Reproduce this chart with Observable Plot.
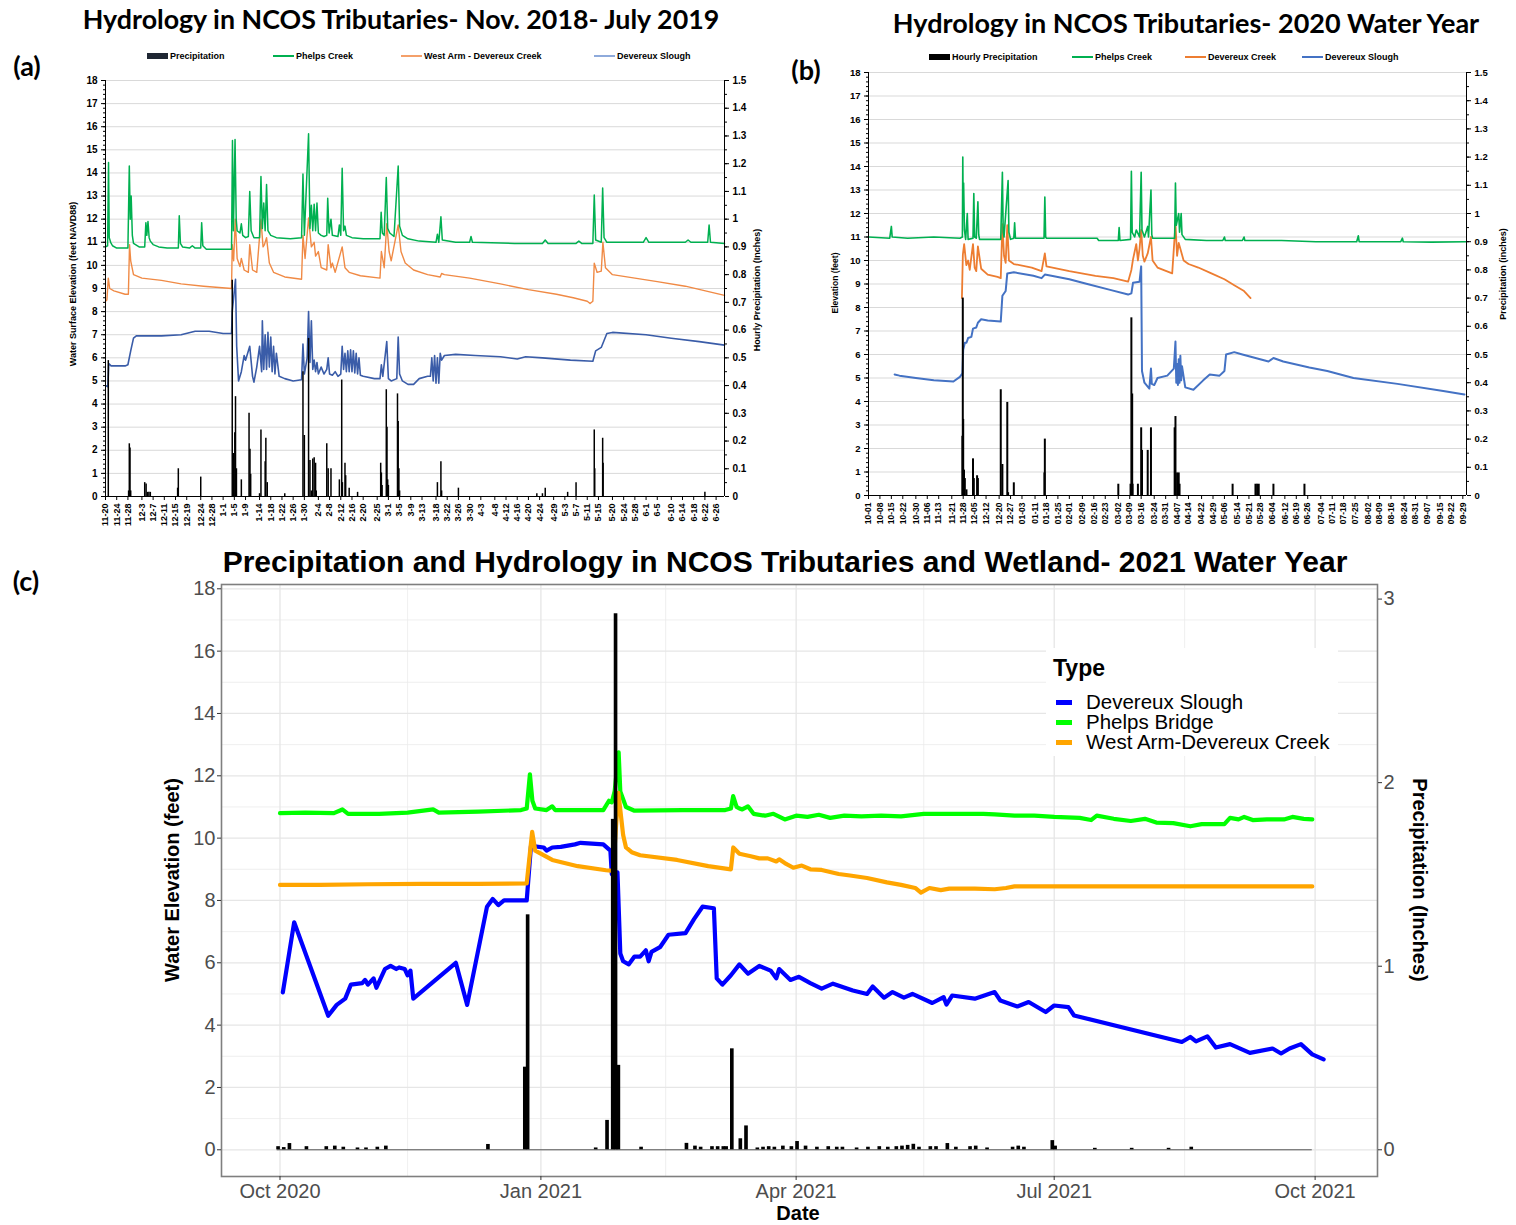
<!DOCTYPE html>
<html><head><meta charset="utf-8">
<script src="https://cdn.jsdelivr.net/npm/d3@7"></script>
<script src="https://cdn.jsdelivr.net/npm/@observablehq/plot@0.6"></script>
<style>
body{margin:0;background:#fff;}
#root{position:relative;width:1516px;height:1225px;overflow:hidden;background:#fff;font-family:"Liberation Sans",Arial,sans-serif;}
.abs{position:absolute;white-space:nowrap;line-height:1;}
svg{position:absolute;overflow:visible;}
</style></head><body><div id="root"></div>
<script>
// ---------------- DATA: panel (a) Nov 2018 - Jul 2019 ----------------
const domainA = ["2018-11-20", "2019-06-29"];
const tickDatesA = ["2018-11-20","2018-11-24","2018-11-28","2018-12-03","2018-12-07","2018-12-11","2018-12-15","2018-12-19","2018-12-24","2018-12-28","2019-01-01","2019-01-05","2019-01-09","2019-01-14","2019-01-18","2019-01-22","2019-01-26","2019-01-30","2019-02-04","2019-02-08","2019-02-12","2019-02-16","2019-02-20","2019-02-25","2019-03-01","2019-03-05","2019-03-09","2019-03-13","2019-03-18","2019-03-22","2019-03-26","2019-03-30","2019-04-03","2019-04-08","2019-04-12","2019-04-16","2019-04-20","2019-04-24","2019-04-29","2019-05-03","2019-05-07","2019-05-11","2019-05-15","2019-05-20","2019-05-24","2019-05-28","2019-06-01","2019-06-05","2019-06-10","2019-06-14","2019-06-18","2019-06-22","2019-06-26"];
const elevTicksA = [0,1,2,3,4,5,6,7,8,9,10,11,12,13,14,15,16,17,18];
const precipTicksA = [0,0.1,0.2,0.3,0.4,0.5,0.6,0.7,0.8,0.9,1,1.1,1.2,1.3,1.4,1.5];
const seriesA = ["Precipitation","Phelps Creek","West Arm - Devereux Creek","Devereux Slough"];
const phelpsA = [["2018-11-20",10.8],["2018-11-20T18",10.85],["2018-11-21T02",14.45],["2018-11-21T08",11.2],["2018-11-21T20",11.0],["2018-11-22T12",10.85],["2018-11-24",10.75],["2018-11-28",10.75],["2018-11-28T12",14.3],["2018-11-28T20",12.0],["2018-11-29T04",13.0],["2018-11-29T14",11.3],["2018-11-30",10.95],["2018-12-02",10.8],["2018-12-04",10.8],["2018-12-04T10",11.85],["2018-12-04T18",11.3],["2018-12-05T04",11.9],["2018-12-05T14",11.2],["2018-12-06",11.05],["2018-12-07",10.9],["2018-12-09",10.8],["2018-12-12",10.75],["2018-12-16",10.75],["2018-12-16T08",12.15],["2018-12-16T18",10.95],["2018-12-17T12",10.8],["2018-12-20",10.75],["2018-12-21",10.85],["2018-12-22",10.75],["2018-12-24",10.75],["2018-12-24T08",11.85],["2018-12-24T18",10.85],["2018-12-26",10.7],["2019-01-04",10.7],["2019-01-04T08",15.4],["2019-01-04T16",11.5],["2019-01-05T06",15.45],["2019-01-05T16",12.0],["2019-01-06",11.5],["2019-01-07",11.4],["2019-01-07T12",11.8],["2019-01-08",11.3],["2019-01-09",11.2],["2019-01-10",11.25],["2019-01-10T12",13.2],["2019-01-11",11.5],["2019-01-12",11.2],["2019-01-14",11.2],["2019-01-14T12",13.85],["2019-01-15",11.6],["2019-01-15T12",12.7],["2019-01-16",11.5],["2019-01-16T12",13.5],["2019-01-17",11.5],["2019-01-18",11.3],["2019-01-20",11.2],["2019-01-25",11.15],["2019-01-29",11.2],["2019-01-29T12",13.95],["2019-01-30",11.3],["2019-01-31T12",15.7],["2019-02-01",11.6],["2019-02-01T12",12.6],["2019-02-02",11.5],["2019-02-02T12",12.65],["2019-02-03",11.5],["2019-02-03T12",12.7],["2019-02-04",11.4],["2019-02-05",11.3],["2019-02-06",11.25],["2019-02-07",11.3],["2019-02-07T08",12.9],["2019-02-07T20",11.4],["2019-02-08T12",12.0],["2019-02-09",11.3],["2019-02-11",11.25],["2019-02-11T12",11.75],["2019-02-12",11.3],["2019-02-12T12",14.2],["2019-02-13",11.5],["2019-02-13T12",11.7],["2019-02-14",11.3],["2019-02-16",11.2],["2019-02-20",11.15],["2019-02-26",11.15],["2019-02-26T10",12.3],["2019-02-26T20",11.4],["2019-02-27T12",11.3],["2019-02-28T06",13.8],["2019-02-28T18",11.6],["2019-03-01T12",11.4],["2019-03-03",11.25],["2019-03-04T12",14.3],["2019-03-05",11.7],["2019-03-06",11.3],["2019-03-08",11.15],["2019-03-12",11.05],["2019-03-18",11.0],["2019-03-18T12",11.35],["2019-03-19",11.0],["2019-03-19T18",12.1],["2019-03-20T06",11.1],["2019-03-25",11.0],["2019-03-30",11.0],["2019-03-30T12",11.25],["2019-03-31",11.0],["2019-04-15",10.95],["2019-04-25",10.95],["2019-04-26",11.1],["2019-04-27",10.95],["2019-05-07",10.95],["2019-05-08",11.05],["2019-05-09",10.95],["2019-05-13",10.95],["2019-05-13T12",13.05],["2019-05-14",11.1],["2019-05-16",11.0],["2019-05-16T12",13.35],["2019-05-17",11.2],["2019-05-18",11.0],["2019-05-31",11.0],["2019-06-01",11.2],["2019-06-02",11.0],["2019-06-15",11.0],["2019-06-16",11.1],["2019-06-17",11.0],["2019-06-23",11.0],["2019-06-23T12",11.75],["2019-06-24",11.0],["2019-06-29",10.95]];
const westArmA = [["2018-11-20",8.45],["2018-11-20T12",8.5],["2018-11-21",9.45],["2018-11-21T12",9.0],["2018-11-23",8.9],["2018-11-27",8.75],["2018-11-28T04",8.75],["2018-11-28T14",10.9],["2018-11-29",10.2],["2018-11-30",9.6],["2018-12-03",9.45],["2018-12-10",9.35],["2018-12-17",9.2],["2018-12-25",9.1],["2019-01-04",9.0],["2019-01-04T06",10.9],["2019-01-04T18",10.2],["2019-01-05T08",12.0],["2019-01-06",10.3],["2019-01-07",9.95],["2019-01-07T12",10.3],["2019-01-08T12",9.8],["2019-01-10",9.7],["2019-01-10T12",10.9],["2019-01-11T12",9.8],["2019-01-13",9.7],["2019-01-14T12",12.0],["2019-01-15T06",10.8],["2019-01-15T18",10.9],["2019-01-16T12",11.2],["2019-01-17T12",10.1],["2019-01-19",9.7],["2019-01-23",9.5],["2019-01-29",9.4],["2019-01-29T12",11.3],["2019-01-30T06",10.3],["2019-01-31T12",12.05],["2019-02-01T12",10.8],["2019-02-02T12",11.0],["2019-02-03",10.4],["2019-02-04",10.6],["2019-02-05",9.9],["2019-02-07",9.8],["2019-02-07T12",10.9],["2019-02-08T12",9.9],["2019-02-09",10.1],["2019-02-10",9.7],["2019-02-12T12",10.8],["2019-02-13T12",9.9],["2019-02-15",9.7],["2019-02-19",9.55],["2019-02-26",9.45],["2019-02-26T12",10.6],["2019-02-27T12",9.9],["2019-02-28T10",11.8],["2019-03-01T06",10.6],["2019-03-02",10.2],["2019-03-04T12",11.75],["2019-03-05T12",10.6],["2019-03-07",10.1],["2019-03-10",9.8],["2019-03-15",9.6],["2019-03-19T12",9.5],["2019-03-20",9.65],["2019-03-21",9.6],["2019-03-30",9.45],["2019-04-10",9.2],["2019-04-20",8.95],["2019-04-30",8.75],["2019-05-06",8.6],["2019-05-11",8.45],["2019-05-12",8.35],["2019-05-13",8.45],["2019-05-13T12",10.1],["2019-05-14T12",9.7],["2019-05-16",9.75],["2019-05-16T14",11.0],["2019-05-17T12",9.9],["2019-05-20",9.6],["2019-05-28",9.45],["2019-06-05",9.3],["2019-06-15",9.1],["2019-06-29",8.7]];
const sloughA = [["2018-11-20",4.8],["2018-11-20T20",4.75],["2018-11-21T04",5.75],["2018-11-22",5.65],["2018-11-27",5.65],["2018-11-28",5.7],["2018-11-29",6.3],["2018-11-30",6.85],["2018-12-01",6.95],["2018-12-10",6.95],["2018-12-17",7.0],["2018-12-22",7.15],["2018-12-27",7.15],["2019-01-01",7.05],["2019-01-04",7.05],["2019-01-04T06",8.0],["2019-01-05T10",9.4],["2019-01-05T20",6.5],["2019-01-06T12",5.0],["2019-01-07T12",5.4],["2019-01-08T12",6.1],["2019-01-09",5.9],["2019-01-10T12",6.5],["2019-01-11T12",5.2],["2019-01-12",4.95],["2019-01-13",5.6],["2019-01-14",6.5],["2019-01-14T18",5.4],["2019-01-15",7.6],["2019-01-15T12",5.5],["2019-01-16",7.0],["2019-01-16T12",5.5],["2019-01-17",7.1],["2019-01-17T12",5.6],["2019-01-18",6.9],["2019-01-18T12",5.4],["2019-01-19",6.5],["2019-01-19T12",5.3],["2019-01-20",6.2],["2019-01-21",5.2],["2019-01-23",5.1],["2019-01-26",5.0],["2019-01-29",5.05],["2019-01-29T12",6.6],["2019-01-30",5.3],["2019-01-31",6.0],["2019-01-31T12",8.0],["2019-02-01",5.8],["2019-02-01T12",7.6],["2019-02-02",5.5],["2019-02-02T12",5.9],["2019-02-03",5.4],["2019-02-03T12",5.8],["2019-02-04",5.3],["2019-02-05",5.6],["2019-02-06",5.3],["2019-02-07",5.5],["2019-02-07T12",6.0],["2019-02-08",5.3],["2019-02-09",5.25],["2019-02-10",5.4],["2019-02-11",5.2],["2019-02-12",5.3],["2019-02-12T12",6.5],["2019-02-13",5.5],["2019-02-13T12",6.2],["2019-02-14",5.4],["2019-02-14T12",6.3],["2019-02-15",5.4],["2019-02-15T12",6.35],["2019-02-16",5.4],["2019-02-16T12",6.3],["2019-02-17",5.35],["2019-02-17T12",6.2],["2019-02-18",5.3],["2019-02-18T12",6.0],["2019-02-19",5.25],["2019-02-20",5.2],["2019-02-24",5.1],["2019-02-26",5.1],["2019-02-26T12",5.7],["2019-02-27",5.2],["2019-02-28T10",6.7],["2019-03-01",5.1],["2019-03-02",5.0],["2019-03-04",5.1],["2019-03-04T12",6.9],["2019-03-05",5.3],["2019-03-06",5.0],["2019-03-08",4.85],["2019-03-10",4.85],["2019-03-12",5.1],["2019-03-15",5.2],["2019-03-16",5.2],["2019-03-16T12",6.0],["2019-03-17",5.0],["2019-03-17T12",6.1],["2019-03-18",4.9],["2019-03-18T12",6.0],["2019-03-19",4.9],["2019-03-19T12",6.2],["2019-03-20",5.9],["2019-03-21",6.1],["2019-03-25",6.15],["2019-04-01",6.1],["2019-04-10",6.05],["2019-04-16",5.95],["2019-04-19",6.05],["2019-04-25",6.0],["2019-05-05",5.9],["2019-05-13",5.85],["2019-05-14",6.3],["2019-05-16",6.45],["2019-05-18",7.05],["2019-05-20",7.1],["2019-06-01",7.0],["2019-06-10",6.85],["2019-06-20",6.7],["2019-06-29",6.55]];
const precipA = [["2018-11-21",0.49],["2018-11-28T06",0.02],["2018-11-28T12",0.19],["2018-11-28T18",0.175],["2018-11-29",0.02],["2018-12-04",0.05],["2018-12-04T12",0.045],["2018-12-05",0.015],["2018-12-05T12",0.015],["2018-12-06",0.015],["2018-12-16",0.1],["2018-12-15T18",0.03],["2018-12-24",0.07],["2019-01-04T06",0.78],["2019-01-04T18",0.155],["2019-01-05T04",0.23],["2019-01-05T10",0.36],["2019-01-05T18",0.1],["2019-01-07T12",0.06],["2019-01-10T06",0.3],["2019-01-10T14",0.17],["2019-01-10T20",0.08],["2019-01-14",0.01],["2019-01-14T12",0.24],["2019-01-16",0.125],["2019-01-16T06",0.21],["2019-01-16T18",0.05],["2019-01-23",0.01],["2019-01-29T12",0.45],["2019-01-30",0.22],["2019-01-31T12",0.57],["2019-02-01",0.13],["2019-02-01T12",0.02],["2019-02-02",0.135],["2019-02-02T12",0.14],["2019-02-03",0.12],["2019-02-03T06",0.02],["2019-02-07",0.19],["2019-02-07T12",0.1],["2019-02-08T12",0.1],["2019-02-11T12",0.06],["2019-02-12T08",0.42],["2019-02-12T14",0.05],["2019-02-13T12",0.12],["2019-02-13T18",0.075],["2019-02-15",0.03],["2019-02-18",0.015],["2019-02-26T06",0.12],["2019-02-26T12",0.085],["2019-02-26T18",0.04],["2019-02-28T06",0.385],["2019-02-28T12",0.25],["2019-02-28T18",0.06],["2019-03-01",0.04],["2019-03-04T06",0.37],["2019-03-04T12",0.27],["2019-03-04T18",0.1],["2019-03-05",0.02],["2019-03-18T12",0.05],["2019-03-19T18",0.125],["2019-03-20",0.02],["2019-03-26",0.03],["2019-04-23",0.01],["2019-04-25",0.01],["2019-04-26",0.03],["2019-05-04",0.015],["2019-05-07",0.05],["2019-05-13T12",0.24],["2019-05-13T16",0.1],["2019-05-16T12",0.21],["2019-05-16T16",0.12],["2019-06-22",0.015]];

// ---------------- DATA: panel (b) 2020 water year ----------------
const domainB = ["2019-10-01", "2020-10-01T06"];
const tickDatesB = ["2019-10-01","2019-10-08","2019-10-15","2019-10-22","2019-10-30","2019-11-06","2019-11-13","2019-11-21","2019-11-28","2019-12-05","2019-12-12","2019-12-20","2019-12-27","2020-01-03","2020-01-11","2020-01-18","2020-01-25","2020-02-01","2020-02-09","2020-02-16","2020-02-23","2020-03-02","2020-03-09","2020-03-16","2020-03-24","2020-03-31","2020-04-07","2020-04-14","2020-04-22","2020-04-29","2020-05-06","2020-05-14","2020-05-21","2020-05-28","2020-06-04","2020-06-12","2020-06-19","2020-06-26","2020-07-04","2020-07-11","2020-07-18","2020-07-25","2020-08-02","2020-08-09","2020-08-16","2020-08-24","2020-08-31","2020-09-07","2020-09-15","2020-09-22","2020-09-29"];
const elevTicksB = [0,1,2,3,4,5,6,7,8,9,10,11,12,13,14,15,16,17,18];
const precipTicksB = [0,0.1,0.2,0.3,0.4,0.5,0.6,0.7,0.8,0.9,1,1.1,1.2,1.3,1.4,1.5];
const seriesB = ["Hourly Precipitation","Phelps Creek","Devereux Creek","Devereux Slough"];
const phelpsB = [["2019-10-01",11.0],["2019-10-14",10.95],["2019-10-15",11.45],["2019-10-15T12",11.0],["2019-10-25",10.95],["2019-11-10",11.0],["2019-11-26",10.95],["2019-11-27T12",11.0],["2019-11-27T18",14.4],["2019-11-28",12.0],["2019-11-28T06",13.3],["2019-11-28T18",11.3],["2019-11-29T12",10.9],["2019-11-30T12",12.0],["2019-12-01",10.9],["2019-12-04",10.95],["2019-12-04T12",12.85],["2019-12-05",11.0],["2019-12-06",10.95],["2019-12-07",12.5],["2019-12-07T12",11.1],["2019-12-08",10.9],["2019-12-21",10.9],["2019-12-22",13.75],["2019-12-22T12",11.2],["2019-12-23",11.0],["2019-12-25T12",13.4],["2019-12-26",11.2],["2019-12-27",10.9],["2019-12-29",10.95],["2019-12-29T12",11.6],["2019-12-30",10.95],["2020-01-16T12",10.95],["2020-01-17",12.7],["2020-01-17T12",11.0],["2020-01-18",10.95],["2020-02-18",10.95],["2020-02-19",10.85],["2020-03-02",10.85],["2020-03-02T12",11.4],["2020-03-03",10.85],["2020-03-09T12",10.9],["2020-03-10",13.8],["2020-03-10T12",11.2],["2020-03-12",11.0],["2020-03-13",11.3],["2020-03-15",11.0],["2020-03-16",13.75],["2020-03-16T12",11.3],["2020-03-18",11.0],["2020-03-20",11.45],["2020-03-20T12",11.0],["2020-03-22",13.0],["2020-03-22T12",11.1],["2020-03-23",10.95],["2020-04-05T12",10.95],["2020-04-06",13.3],["2020-04-06T12",11.5],["2020-04-08",12.0],["2020-04-08T12",11.2],["2020-04-09T12",12.0],["2020-04-10",11.1],["2020-04-12",10.9],["2020-04-25",10.85],["2020-05-05",10.85],["2020-05-06",11.0],["2020-05-06T12",10.85],["2020-05-17",10.85],["2020-05-18",11.0],["2020-05-18T12",10.85],["2020-06-10",10.85],["2020-07-01",10.8],["2020-07-26",10.8],["2020-07-27",11.05],["2020-07-27T12",10.8],["2020-08-22",10.8],["2020-08-23",10.95],["2020-08-23T12",10.8],["2020-09-10",10.78],["2020-10-01",10.8]];
const devCreekB = [["2019-11-27T05",8.4],["2019-11-27T19",10.25],["2019-11-28T14",10.7],["2019-11-29T22",9.8],["2019-12-01",10.0],["2019-12-02",9.6],["2019-12-04",10.7],["2019-12-05",9.7],["2019-12-06",9.55],["2019-12-07",10.6],["2019-12-09",9.65],["2019-12-13",9.4],["2019-12-19",9.3],["2019-12-21",9.25],["2019-12-22",11.55],["2019-12-23",10.2],["2019-12-24",9.9],["2019-12-25",11.5],["2019-12-26",10.0],["2019-12-29",9.85],["2020-01-09",9.7],["2020-01-15",9.55],["2020-01-17",10.3],["2020-01-18",9.75],["2020-02-01",9.55],["2020-02-17",9.35],["2020-02-28",9.25],["2020-03-08",9.1],["2020-03-10",9.6],["2020-03-11",10.05],["2020-03-13",10.7],["2020-03-14",10.0],["2020-03-15",10.5],["2020-03-16",11.3],["2020-03-17",10.2],["2020-03-18",9.95],["2020-03-20",10.3],["2020-03-22",11.0],["2020-03-23",10.0],["2020-03-26",9.7],["2020-04-04",9.45],["2020-04-06",11.55],["2020-04-07",10.2],["2020-04-08",10.75],["2020-04-09",10.5],["2020-04-11",10.0],["2020-04-14",9.85],["2020-04-20",9.7],["2020-04-28",9.45],["2020-05-06",9.2],["2020-05-12",8.95],["2020-05-18",8.7],["2020-05-22",8.4]];
const sloughB = [["2019-10-17",5.15],["2019-10-20",5.1],["2019-10-30",5.0],["2019-11-10",4.9],["2019-11-22",4.85],["2019-11-26",5.05],["2019-11-27T12",5.2],["2019-11-28",6.2],["2019-11-29",6.5],["2019-11-30",6.5],["2019-12-01",6.7],["2019-12-03",6.75],["2019-12-04",7.1],["2019-12-06",7.15],["2019-12-07",7.35],["2019-12-09",7.5],["2019-12-13",7.45],["2019-12-21",7.4],["2019-12-22",8.5],["2019-12-24",8.7],["2019-12-25",9.45],["2019-12-29",9.5],["2020-01-10",9.35],["2020-01-15",9.25],["2020-01-17",9.4],["2020-01-21",9.35],["2020-02-01",9.2],["2020-02-12",9.0],["2020-02-26",8.75],["2020-03-08",8.55],["2020-03-10",8.6],["2020-03-11",9.05],["2020-03-15",9.1],["2020-03-16",9.75],["2020-03-16T12",5.3],["2020-03-18",4.8],["2020-03-21",4.55],["2020-03-22",5.4],["2020-03-22T12",4.75],["2020-03-24",4.7],["2020-03-26",5.0],["2020-04-01",5.1],["2020-04-05",5.4],["2020-04-06",6.55],["2020-04-06T12",4.8],["2020-04-07",5.6],["2020-04-07T12",4.7],["2020-04-08",5.8],["2020-04-08T12",4.8],["2020-04-09",5.95],["2020-04-09T12",4.9],["2020-04-10",5.5],["2020-04-12",4.6],["2020-04-17",4.5],["2020-04-23",4.9],["2020-04-27",5.15],["2020-05-03",5.1],["2020-05-06",5.3],["2020-05-07",6.0],["2020-05-12",6.1],["2020-05-17",6.0],["2020-06-02",5.7],["2020-06-05",5.85],["2020-06-11",5.7],["2020-06-27",5.45],["2020-07-08",5.3],["2020-07-24",5.0],["2020-08-20",4.75],["2020-09-17",4.45],["2020-09-30",4.3]];
const precipB = [["2019-11-27T12",0.21],["2019-11-27T18",0.70],["2019-11-28",0.27],["2019-11-28T12",0.09],["2019-11-29",0.06],["2019-11-30",0.02],["2019-12-04",0.13],["2019-12-04T12",0.06],["2019-12-06T12",0.07],["2019-12-07",0.06],["2019-12-21",0.375],["2019-12-22",0.11],["2019-12-25",0.33],["2019-12-25T12",0.01],["2019-12-29",0.045],["2020-01-16T18",0.08],["2020-01-17",0.2],["2020-03-02",0.04],["2020-03-09T12",0.04],["2020-03-10",0.63],["2020-03-10T12",0.36],["2020-03-10T18",0.04],["2020-03-14",0.04],["2020-03-16",0.24],["2020-03-16T12",0.16],["2020-03-20",0.16],["2020-03-22",0.24],["2020-04-05T12",0.24],["2020-04-06",0.28],["2020-04-07",0.08],["2020-04-08",0.08],["2020-04-08T12",0.04],["2020-05-11",0.04],["2020-05-25",0.04],["2020-05-26",0.04],["2020-05-27",0.04],["2020-06-05",0.04],["2020-06-24",0.04]];

// ---------------- DATA: panel (c) 2021 water year ----------------
const domainC = ["2020-09-10T09", "2021-10-23"];
const monthTicksC = ["2020-10-01","2021-01-01","2021-04-01","2021-07-01","2021-10-01"];
const minorMonthsC = ["2020-11-15","2021-02-14","2021-05-16","2021-08-16"];
const elevTicksC = [0,2,4,6,8,10,12,14,16,18];
const elevMinorC = [1,3,5,7,9,11,13,15,17];
const precipTicksC = [0,1,2,3];
const seriesC = ["Devereux Slough","Phelps Bridge","West Arm-Devereux Creek"];
const baselineC = [["2020-09-30","2021-09-30"]];
const sloughC = [["2020-10-02",5.05],["2020-10-06",7.3],["2020-10-18",4.3],["2020-10-21",4.65],["2020-10-24",4.85],["2020-10-26",5.3],["2020-10-30",5.35],["2020-10-31",5.45],["2020-11-01",5.3],["2020-11-03",5.5],["2020-11-04",5.2],["2020-11-07",5.8],["2020-11-09",5.9],["2020-11-11",5.8],["2020-11-12",5.85],["2020-11-14",5.8],["2020-11-15",5.6],["2020-11-16",5.75],["2020-11-17",4.85],["2020-12-02",6.0],["2020-12-06",4.65],["2020-12-13",7.8],["2020-12-15",8.05],["2020-12-17",7.85],["2020-12-19",8.0],["2020-12-27",8.0],["2020-12-28T12",9.75],["2021-01-02",9.7],["2021-01-03",9.6],["2021-01-05",9.7],["2021-01-08",9.72],["2021-01-13",9.8],["2021-01-15",9.85],["2021-01-23",9.8],["2021-01-25T12",9.6],["2021-01-26",8.85],["2021-01-27",8.75],["2021-01-28",8.9],["2021-01-29",6.3],["2021-01-30",6.05],["2021-02-01",5.95],["2021-02-03",6.2],["2021-02-05",6.2],["2021-02-07",6.4],["2021-02-08",6.05],["2021-02-09",6.35],["2021-02-12",6.5],["2021-02-15",6.9],["2021-02-21",6.95],["2021-02-24",7.4],["2021-02-27",7.8],["2021-03-03",7.75],["2021-03-04",5.5],["2021-03-06",5.3],["2021-03-09",5.6],["2021-03-12",5.95],["2021-03-15",5.65],["2021-03-19",5.9],["2021-03-23",5.75],["2021-03-25",5.5],["2021-03-26",5.8],["2021-03-30",5.45],["2021-04-02",5.55],["2021-04-06",5.35],["2021-04-10",5.17],["2021-04-14",5.33],["2021-04-21",5.11],["2021-04-26",5.0],["2021-04-28",5.24],["2021-05-02",4.88],["2021-05-05",5.06],["2021-05-09",4.88],["2021-05-12",5.0],["2021-05-19",4.71],["2021-05-23",4.9],["2021-05-24",4.66],["2021-05-26",4.95],["2021-06-03",4.85],["2021-06-10",5.06],["2021-06-12",4.79],["2021-06-18",4.6],["2021-06-22",4.74],["2021-06-28",4.42],["2021-07-01",4.63],["2021-07-06",4.58],["2021-07-08",4.31],["2021-08-15",3.46],["2021-08-18",3.62],["2021-08-20",3.48],["2021-08-24",3.64],["2021-08-27",3.28],["2021-09-01",3.39],["2021-09-08",3.11],["2021-09-16",3.25],["2021-09-19",3.09],["2021-09-22",3.25],["2021-09-26",3.39],["2021-09-30",3.06],["2021-10-04",2.9]];
const phelpsC = [["2020-10-01",10.8],["2020-10-10",10.82],["2020-10-20",10.8],["2020-10-23",10.92],["2020-10-25",10.78],["2020-11-05",10.78],["2020-11-15",10.82],["2020-11-24",10.92],["2020-11-26",10.82],["2020-12-10",10.85],["2020-12-25",10.9],["2020-12-27",10.95],["2020-12-28T03",12.05],["2020-12-29",11.2],["2020-12-30",10.95],["2021-01-03",10.9],["2021-01-05",11.02],["2021-01-06",10.9],["2021-01-23",10.9],["2021-01-25",11.2],["2021-01-26",11.15],["2021-01-27",11.5],["2021-01-28T10",12.75],["2021-01-29",11.5],["2021-01-31",11.0],["2021-02-03",10.88],["2021-02-20",10.9],["2021-03-07",10.9],["2021-03-09",10.95],["2021-03-09T19",11.35],["2021-03-11",11.0],["2021-03-12",10.95],["2021-03-13",10.92],["2021-03-15",11.02],["2021-03-17",10.78],["2021-03-21",10.72],["2021-03-24",10.78],["2021-03-28",10.6],["2021-04-01",10.72],["2021-04-05",10.68],["2021-04-09",10.75],["2021-04-13",10.65],["2021-04-18",10.72],["2021-04-24",10.7],["2021-05-01",10.72],["2021-05-08",10.7],["2021-05-16",10.78],["2021-05-25",10.78],["2021-06-06",10.78],["2021-06-10",10.76],["2021-06-17",10.72],["2021-06-24",10.72],["2021-07-01",10.68],["2021-07-10",10.65],["2021-07-14",10.58],["2021-07-16",10.72],["2021-07-22",10.62],["2021-07-28",10.55],["2021-08-02",10.62],["2021-08-06",10.5],["2021-08-12",10.48],["2021-08-18",10.38],["2021-08-22",10.45],["2021-08-30",10.45],["2021-09-01",10.65],["2021-09-04",10.6],["2021-09-06",10.68],["2021-09-09",10.58],["2021-09-14",10.6],["2021-09-20",10.6],["2021-09-23",10.68],["2021-09-27",10.62],["2021-09-30",10.6]];
const westArmC = [["2020-10-01",8.5],["2020-10-15",8.5],["2020-11-01",8.52],["2020-11-20",8.53],["2020-12-10",8.53],["2020-12-27",8.55],["2020-12-28T22",10.2],["2020-12-30",9.6],["2021-01-05",9.3],["2021-01-14",9.1],["2021-01-24",8.97],["2021-01-26T12",8.95],["2021-01-27T12",10.4],["2021-01-28T08",11.45],["2021-01-30",10.1],["2021-01-31",9.7],["2021-02-02",9.55],["2021-02-05",9.45],["2021-02-18",9.3],["2021-03-01",9.1],["2021-03-09",9.0],["2021-03-09T20",9.7],["2021-03-12",9.5],["2021-03-16",9.42],["2021-03-19",9.35],["2021-03-22",9.35],["2021-03-25",9.25],["2021-03-26",9.32],["2021-03-28",9.2],["2021-03-31",9.05],["2021-04-03",9.12],["2021-04-06",9.0],["2021-04-10",8.98],["2021-04-16",8.85],["2021-04-20",8.8],["2021-04-26",8.72],["2021-05-03",8.58],["2021-05-08",8.5],["2021-05-13",8.4],["2021-05-15",8.25],["2021-05-18",8.4],["2021-05-22",8.33],["2021-05-25",8.38],["2021-06-03",8.38],["2021-06-10",8.36],["2021-06-14",8.4],["2021-06-17",8.45],["2021-07-15",8.45],["2021-08-15",8.45],["2021-09-30",8.45]];
const precipC = [["2020-09-30",0.017],["2020-10-02",0.012],["2020-10-04",0.034],["2020-10-10",0.017],["2020-10-17",0.017],["2020-10-20",0.02],["2020-10-23",0.014],["2020-10-28",0.01],["2020-10-31",0.01],["2020-11-04",0.014],["2020-11-07",0.02],["2020-12-13",0.029],["2020-12-26",0.45],["2020-12-27",1.28],["2021-01-20",0.01],["2021-01-24",0.16],["2021-01-26",1.8],["2021-01-27",2.92],["2021-01-28",0.46],["2021-02-05",0.014],["2021-02-21",0.035],["2021-02-24",0.02],["2021-02-26",0.014],["2021-03-02",0.017],["2021-03-04",0.017],["2021-03-06",0.017],["2021-03-07",0.017],["2021-03-09",0.55],["2021-03-12",0.06],["2021-03-14",0.13],["2021-03-18",0.01],["2021-03-20",0.014],["2021-03-22",0.017],["2021-03-24",0.014],["2021-03-27",0.02],["2021-03-30",0.017],["2021-04-01",0.045],["2021-04-04",0.02],["2021-04-08",0.014],["2021-04-12",0.017],["2021-04-15",0.014],["2021-04-17",0.014],["2021-04-22",0.01],["2021-04-26",0.014],["2021-04-30",0.017],["2021-05-03",0.014],["2021-05-06",0.017],["2021-05-08",0.02],["2021-05-10",0.024],["2021-05-12",0.03],["2021-05-14",0.014],["2021-05-18",0.017],["2021-05-20",0.017],["2021-05-24",0.034],["2021-05-27",0.014],["2021-06-01",0.017],["2021-06-03",0.02],["2021-06-07",0.01],["2021-06-16",0.014],["2021-06-18",0.02],["2021-06-20",0.014],["2021-06-30",0.05],["2021-07-01",0.02],["2021-07-15",0.008],["2021-07-28",0.008],["2021-08-10",0.008],["2021-08-18",0.014]];

// ---------------- helpers ----------------
const root = document.getElementById("root");
const P = s => new Date(s.length > 10 ? s + ":00Z" : s + "T00:00Z");
const FA = 12;      // ft per inch, secondary axis of (a)
const FB = 12;      // ft per inch, secondary axis of (b)
const FC = 5.89;    // ft per inch, secondary axis of (c)
const r1 = v => String(Math.round(v * 10) / 10);
function txt(s, cx, cy, css, rot) {
  const d = document.createElement("div");
  d.className = "abs"; d.textContent = s;
  Object.assign(d.style, {left: cx + "px", top: cy + "px", transform: `translate(-50%,-50%) rotate(${rot || 0}deg)`}, css);
  root.appendChild(d);
  return d;
}
function legendItem(x, y, color, label, css, w, h) {
  const sw = document.createElement("div");
  sw.className = "abs";
  Object.assign(sw.style, {left: x + "px", top: (y - h / 2) + "px", width: w + "px", height: h + "px", background: color});
  root.appendChild(sw);
  const t = document.createElement("div");
  t.className = "abs"; t.textContent = label;
  Object.assign(t.style, {left: (x + w + 2) + "px", top: y + "px", transform: "translateY(-50%)"}, css);
  root.appendChild(t);
}
function place(svg, left, top) { svg.style.left = left + "px"; svg.style.top = top + "px"; root.appendChild(svg); }
const xlsFont = {fontFamily: "'Liberation Sans', Arial, sans-serif", fontWeight: "700", fontSize: "9px", color: "#000"};
const calFont = {fontFamily: "Lato, 'Open Sans', sans-serif", fontWeight: "700", color: "#000"};

// ---------------- panel (a) ----------------
{
  const minor = d3.range(0, 18.01, 0.2);
  const minorR = d3.range(0, 1.501, 0.05).map(v => v * FA);
  const svg = Plot.plot({
    width: 780, height: 535, marginLeft: 105, marginRight: 56, marginTop: 80, marginBottom: 39,
    style: {fontFamily: "'Liberation Sans', Arial, sans-serif", fontSize: "10px", fontWeight: "bold", background: "transparent", color: "#000"},
    x: {type: "utc", domain: domainA.map(P)},
    y: {domain: [0, 18]},
    marks: [
      Plot.gridY(elevTicksA.slice(1), {stroke: "#d9d9d9", strokeOpacity: 1, strokeWidth: 1}),
      Plot.line(sloughA, {x: d => P(d[0]), y: d => d[1], stroke: "#3a5ca8", strokeWidth: 1.6}),
      Plot.line(westArmA, {x: d => P(d[0]), y: d => d[1], stroke: "#f08a45", strokeWidth: 1.4}),
      Plot.line(phelpsA, {x: d => P(d[0]), y: d => d[1], stroke: "#00b050", strokeWidth: 1.5}),
      Plot.ruleX(precipA, {x: d => P(d[0]), y1: 0, y2: d => d[1] * FA, stroke: "#000", strokeWidth: 1.5}),
      Plot.ruleY([0], {stroke: "#000"}),
      Plot.ruleX(domainA.map(P), {stroke: "#000"}),
      Plot.axisY(elevTicksA, {anchor: "left", tickSize: 4, tickPadding: 4, fontSize: 10}),
      Plot.axisY(minor, {anchor: "left", tickSize: 2, tickFormat: () => ""}),
      Plot.axisY(precipTicksA.map(v => v * FA), {anchor: "right", tickSize: 4, tickPadding: 4, tickFormat: d => r1(d / FA), fontSize: 10}),
      Plot.axisY(minorR, {anchor: "right", tickSize: 2, tickFormat: () => ""}),
      Plot.axisX(tickDatesA.map(P), {tickRotate: -90, tickSize: 4, tickPadding: 3, tickFormat: d3.utcFormat("%-m-%-d"), fontSize: 9})
    ]
  });
  place(svg, 0, 0);
  txt("Hydrology in NCOS Tributaries- Nov. 2018- July 2019", 401, 19, {...calFont, fontSize: "26.8px"});
  txt("(a)", 27, 65, {...calFont, fontSize: "27px"});
  txt("Water Surface Elevation (feet NAVD88)", 73, 284, xlsFont, -90);
  txt("Hourly Precipitation (Inches)", 757, 290, xlsFont, -90);
  const ly = 56;
  legendItem(147, ly, "#1f2733", seriesA[0], xlsFont, 21, 6);
  legendItem(273, ly, "#00b050", seriesA[1], xlsFont, 21, 2);
  legendItem(401, ly, "#f4a06a", seriesA[2], xlsFont, 21, 2);
  legendItem(594, ly, "#8eaadb", seriesA[3], xlsFont, 21, 2);
}

// ---------------- panel (b) ----------------
{
  const minor = d3.range(0, 18.01, 0.2);
  const minorR = d3.range(0, 1.501, 0.05).map(v => v * FB);
  const svg = Plot.plot({
    width: 736, height: 535, marginLeft: 88, marginRight: 50, marginTop: 72, marginBottom: 40,
    style: {fontFamily: "'Liberation Sans', Arial, sans-serif", fontSize: "10px", fontWeight: "bold", background: "transparent", color: "#000"},
    x: {type: "utc", domain: domainB.map(P)},
    y: {domain: [0, 18]},
    marks: [
      Plot.gridY(elevTicksB.slice(1), {stroke: "#d9d9d9", strokeOpacity: 1, strokeWidth: 1}),
      Plot.line(sloughB, {x: d => P(d[0]), y: d => d[1], stroke: "#4472c4", strokeWidth: 2}),
      Plot.line(devCreekB, {x: d => P(d[0]), y: d => d[1], stroke: "#ed7d31", strokeWidth: 1.8}),
      Plot.line(phelpsB, {x: d => P(d[0]), y: d => d[1], stroke: "#00b050", strokeWidth: 1.6}),
      Plot.ruleX(precipB, {x: d => P(d[0]), y1: 0, y2: d => d[1] * FB, stroke: "#000", strokeWidth: 2}),
      Plot.ruleY([0], {stroke: "#000"}),
      Plot.ruleX(domainB.map(P), {stroke: "#000"}),
      Plot.axisY(elevTicksB, {anchor: "left", tickSize: 4, tickPadding: 4, fontSize: 9.5}),
      Plot.axisY(minor, {anchor: "left", tickSize: 2, tickFormat: () => ""}),
      Plot.axisY(precipTicksB.map(v => v * FB), {anchor: "right", tickSize: 4, tickPadding: 4, tickFormat: d => r1(d / FB), fontSize: 9.5}),
      Plot.axisY(minorR, {anchor: "right", tickSize: 2, tickFormat: () => ""}),
      Plot.axisX(tickDatesB.map(P), {tickRotate: -90, tickSize: 4, tickPadding: 3, tickFormat: d3.utcFormat("%m-%d"), fontSize: 8.5})
    ]
  });
  place(svg, 780, 0);
  txt("Hydrology in NCOS Tributaries- 2020 Water Year", 1186, 22, {...calFont, fontSize: "27px"});
  txt("(b)", 806, 69, {...calFont, fontSize: "27px"});
  txt("Elevation (feet)", 835, 283, {...xlsFont, fontSize: "8.5px"}, -90);
  txt("Precipitation (inches)", 1503, 274, xlsFont, -90);
  const ly = 57;
  legendItem(929, ly, "#000", seriesB[0], xlsFont, 21, 6);
  legendItem(1072, ly, "#00b050", seriesB[1], xlsFont, 21, 2);
  legendItem(1185, ly, "#ed7d31", seriesB[2], xlsFont, 21, 2);
  legendItem(1302, ly, "#4472c4", seriesB[3], xlsFont, 21, 2);
}

// ---------------- panel (c) ----------------
{
  const svg = Plot.plot({
    width: 1516, height: 651, marginLeft: 221, marginRight: 139, marginTop: 10, marginBottom: 49,
    style: {fontFamily: "'Liberation Sans', Arial, sans-serif", fontSize: "20px", background: "transparent", color: "#4d4d4d"},
    x: {type: "utc", domain: domainC.map(P)},
    y: {domain: [-0.857, 18.138]},
    marks: [
      Plot.gridX(minorMonthsC.map(P), {stroke: "#ebebeb", strokeOpacity: 1, strokeWidth: 0.8}),
      Plot.gridY(elevMinorC, {stroke: "#ebebeb", strokeOpacity: 1, strokeWidth: 0.8}),
      Plot.gridX(monthTicksC.map(P), {stroke: "#e6e6e6", strokeOpacity: 1, strokeWidth: 1.3}),
      Plot.gridY(elevTicksC, {stroke: "#e6e6e6", strokeOpacity: 1, strokeWidth: 1.3}),
      Plot.ruleY(baselineC, {y: 0, x1: d => P(d[0]), x2: d => P(d[1]), stroke: "#555", strokeWidth: 1}),
      Plot.line(sloughC, {x: d => P(d[0]), y: d => d[1], stroke: "#0000ff", strokeWidth: 4.2, strokeLinejoin: "round"}),
      Plot.line(phelpsC, {x: d => P(d[0]), y: d => d[1], stroke: "#00ff00", strokeWidth: 4.2, strokeLinejoin: "round"}),
      Plot.line(westArmC, {x: d => P(d[0]), y: d => d[1], stroke: "#ffa500", strokeWidth: 4.2, strokeLinejoin: "round"}),
      Plot.rectY(precipC, {x: d => P(d[0]), interval: d3.utcDay, y: d => d[1] * FC, fill: "#000", insetLeft: -0.4, insetRight: -0.4}),
      Plot.frame({stroke: "#7f7f7f", strokeWidth: 1.6}),
      Plot.axisY(elevTicksC, {anchor: "left", tickSize: 4, tickPadding: 2, fontSize: 20, stroke: "#333"}),
      Plot.axisY(precipTicksC.map(v => v * FC), {anchor: "right", tickSize: 4, tickPadding: 2, fontSize: 20, tickFormat: d => String(Math.round(d / FC)), stroke: "#333"}),
      Plot.axisX(monthTicksC.map(P), {anchor: "bottom", tickSize: 4, tickPadding: 3, fontSize: 20, tickFormat: d3.utcFormat("%b %Y"), stroke: "#333"})
    ]
  });
  place(svg, 0, 574);
  txt("Precipitation and Hydrology in NCOS Tributaries and Wetland- 2021 Water Year", 785, 562, {fontFamily: "'Liberation Sans', Arial, sans-serif", fontWeight: "700", fontSize: "30px", color: "#000"});
  txt("(c)", 26, 580, {...calFont, fontSize: "27px"});
  const axT = {fontFamily: "'Liberation Sans', Arial, sans-serif", fontWeight: "700", fontSize: "20px", color: "#000"};
  txt("Water Elevation (feet)", 172, 880, axT, -90);
  txt("Precipitation (Inches)", 1420, 880, axT, 90);
  txt("Date", 798, 1213, axT);
  // legend
  const box = document.createElement("div");
  box.className = "abs";
  Object.assign(box.style, {left: "1046px", top: "648px", width: "292px", height: "108px", background: "#fff"});
  root.appendChild(box);
  const ttl = document.createElement("div"); ttl.className = "abs"; ttl.textContent = "Type";
  Object.assign(ttl.style, axT, {fontSize: "23px", left: "1053px", top: "668px", transform: "translateY(-50%)"});
  root.appendChild(ttl);
  const colsC = ["#0000ff", "#00ff00", "#ffa500"];
  const lf = {fontFamily: "'Liberation Sans', Arial, sans-serif", fontSize: "20.5px", color: "#000"};
  seriesC.forEach((s, i) => {
    const y = [702, 722, 742][i];
    const sw = document.createElement("div"); sw.className = "abs";
    Object.assign(sw.style, {left: "1056px", top: (y - 2.5) + "px", width: "16px", height: "5px", background: colsC[i]});
    root.appendChild(sw);
    const t = document.createElement("div"); t.className = "abs"; t.textContent = s;
    Object.assign(t.style, {left: "1086px", top: y + "px", transform: "translateY(-50%)"}, lf);
    root.appendChild(t);
  });
}
</script></body></html>
